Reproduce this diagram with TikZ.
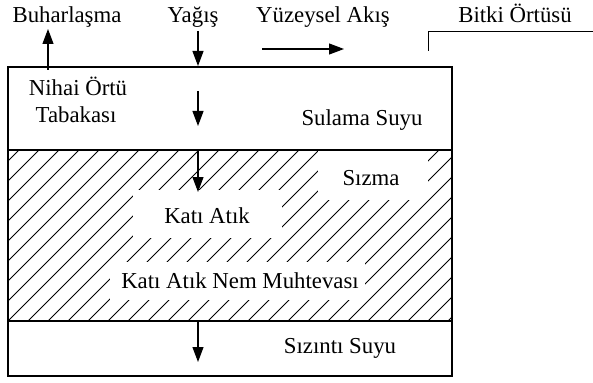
\documentclass[tikz,border=0pt]{standalone}
\usepackage{fontspec}
\setmainfont{Liberation Serif}
\usetikzlibrary{arrows.meta}
\begin{document}
\begin{tikzpicture}[x=1pt,y=-1pt,
  lbl/.style={font=\fontsize{22.8}{25}\selectfont, inner sep=0pt, anchor=base},
  flow/.style={line width=1.1pt, -{Triangle[length=15pt,width=11pt]}},
  edge/.style={line width=1.3pt},
  hatchline/.style={line width=0.9pt},
  blank/.style={fill=white, draw=none}]
\useasboundingbox (0,0) rectangle (593,382);
% layers
\coordinate (TL) at (8,67);
\coordinate (TR) at (452,67);
\coordinate (ML) at (8,150);
\coordinate (MR) at (452,150);
\coordinate (BL) at (8,321);
\coordinate (BR) at (452,321);
\coordinate (FL) at (8,376);
\coordinate (FR) at (452,376);
% hatching
\begin{scope}
  \clip (ML) rectangle (BR);
  \foreach \k in {-10,...,25} {
    \draw[hatchline] ({8+\k*20},321) -- ++(171,-171);
  }
  \fill[blank] (133,190) rectangle (282,238);
  \fill[blank] (110,262) rectangle (365,300);
  \fill[blank] (318,150) rectangle (428,200);
\end{scope}
\draw[edge] (TL) rectangle (FR);
\draw[edge] (ML) -- (MR);
\draw[edge] (BL) -- (BR);
% top labels
\node[lbl] (buhar) at (67,23) {Buharlaşma};
\node[lbl] (yagis) at (193,23) {Yağış};
\node[lbl] (yuzey) at (323,23) {Yüzeysel Akış};
\node[lbl] (bitki) at (515,23) {Bitki Örtüsü};
% inside labels
\node[lbl] (nihai) at (78,96) {Nihai Örtü};
\node[lbl] (tabak) at (76,123) {Tabakası};
\node[lbl] (sulama) at (362,126) {Sulama Suyu};
\node[lbl] (sizma) at (371,185) {Sızma};
\node[lbl] (kati) at (207,223) {Katı Atık};
\node[lbl] (nem) at (240,288) {Katı Atık Nem Muhtevası};
\node[lbl] (sizinti) at (340,353) {Sızıntı Suyu};
% arrows
\coordinate (b0) at (48,70);
\coordinate (b1) at (48,29);
\draw[flow] (b0) -- (b1);
\coordinate (y0) at (198,31);
\coordinate (y1) at (198,66);
\draw[flow] (y0) -- (y1);
\coordinate (s0) at (262,49);
\coordinate (s1) at (344,49);
\draw[flow] (s0) -- (s1);
\coordinate (m0) at (198,91);
\coordinate (m1) at (198,126);
\draw[flow] (m0) -- (m1);
\coordinate (h0) at (198,150);
\coordinate (h1) at (198,192);
\draw[flow] (h0) -- (h1);
\coordinate (l0) at (198,321);
\coordinate (l1) at (198,362);
\draw[flow] (l0) -- (l1);
% vegetation bracket
\coordinate (v0) at (428,51);
\coordinate (v1) at (428,32);
\coordinate (v2) at (593,32);
\draw[line width=1pt] (v0) -- (v1) -- (v2);
\end{tikzpicture}
\end{document}
